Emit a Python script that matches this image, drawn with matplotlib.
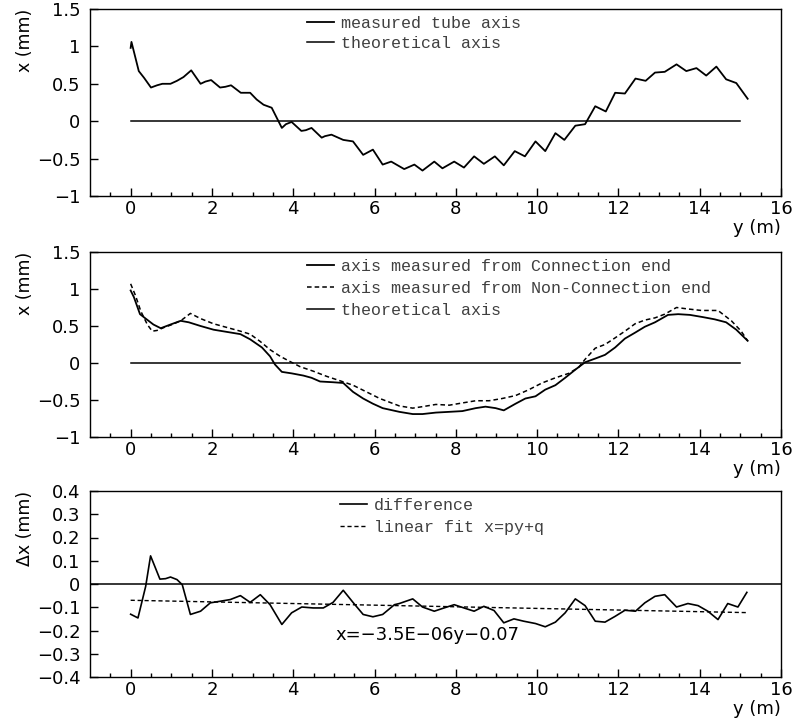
import matplotlib
matplotlib.use('Agg')
import matplotlib.pyplot as plt
import numpy as np

# measured tube axis (y in m, x in mm)
tube_y = [0.0, 0.02, 0.2, 0.33, 0.5, 0.65, 0.78, 0.98, 1.14, 1.3,
          1.49, 1.72, 1.84, 1.98, 2.2, 2.33, 2.47, 2.71, 2.94, 3.1,
          3.27, 3.47, 3.72, 3.82, 3.96, 4.2, 4.31, 4.45, 4.7, 4.78,
          4.94, 5.23, 5.47, 5.72, 5.96, 6.2, 6.41,
          6.73, 6.98, 7.18, 7.47, 7.67, 7.96, 8.2, 8.45, 8.69, 8.96,
          9.18, 9.45, 9.7, 9.96, 10.2, 10.45, 10.67, 10.94, 11.18, 11.43,
          11.69, 11.92, 12.16, 12.42, 12.67, 12.9, 13.14, 13.43, 13.67, 13.92,
          14.16, 14.41, 14.65, 14.9, 15.18]
tube_x = [0.98, 1.06, 0.67, 0.58, 0.45, 0.48, 0.5, 0.5, 0.54, 0.59,
          0.68, 0.50, 0.53, 0.55, 0.45, 0.46, 0.48, 0.38, 0.38, 0.29,
          0.22, 0.18, -0.09, -0.04, -0.01, -0.13, -0.12, -0.09, -0.22, -0.2,
          -0.18, -0.25, -0.27, -0.45, -0.38, -0.58, -0.54,
          -0.64, -0.58, -0.66, -0.54, -0.63, -0.54, -0.62, -0.47, -0.57, -0.47,
          -0.59, -0.40, -0.47, -0.27, -0.40, -0.16, -0.25, -0.06, -0.04, 0.2,
          0.13, 0.38, 0.37, 0.57, 0.54, 0.65, 0.66, 0.76, 0.67, 0.71,
          0.61, 0.73, 0.56, 0.51, 0.3]

# axis measured from the connection end
conn_y = [0, 0.08, 0.23, 0.37, 0.56, 0.74, 0.98, 1.23, 1.43, 1.72,
          2.04, 2.37, 2.7, 2.94, 3.23, 3.43, 3.55, 3.72, 3.96, 4.25,
          4.45, 4.66, 4.98, 5.23, 5.47, 5.72, 5.96, 6.2, 6.61, 6.94,
          7.18, 7.51, 7.84, 8.16, 8.49, 8.73, 8.98, 9.18, 9.47, 9.71,
          9.96, 10.2, 10.45, 10.69, 10.94, 11.18, 11.43, 11.67, 11.92, 12.16,
          12.41, 12.65, 12.9, 13.22, 13.47, 13.76, 14.08, 14.37, 14.65, 14.9,
          15.18]
conn_x = [0.98, 0.89, 0.66, 0.6, 0.52, 0.47, 0.52, 0.57, 0.55, 0.5,
          0.45, 0.42, 0.39, 0.32, 0.21, 0.09, -0.02, -0.12, -0.14, -0.17,
          -0.2, -0.25, -0.26, -0.27, -0.39, -0.48, -0.55, -0.61, -0.66, -0.69,
          -0.69, -0.67, -0.66, -0.65, -0.61, -0.59, -0.61, -0.64, -0.55, -0.48,
          -0.45, -0.36, -0.30, -0.2, -0.09, 0.01, 0.06, 0.11, 0.21, 0.33,
          0.41, 0.49, 0.55, 0.65, 0.66, 0.65, 0.62, 0.59, 0.55, 0.45,
          0.3]

# axis measured from the non-connection end
nconn_y = [0, 0.12, 0.25, 0.41, 0.53, 0.65, 0.82, 1.02, 1.23, 1.47,
           1.72, 2.04, 2.37, 2.7, 2.94, 3.19, 3.43, 3.68, 3.92, 4.17,
           4.49, 4.82, 5.15, 5.47, 5.8, 6.13, 6.61, 6.94, 7.18, 7.51,
           7.84, 8.16, 8.49, 8.82, 9.14, 9.47, 9.8, 10.12, 10.45, 10.78,
           11.02, 11.18, 11.43, 11.67, 11.92, 12.16, 12.41, 12.65, 12.9, 13.14,
           13.43, 13.71, 14.04, 14.45, 14.78, 15.02, 15.18]
nconn_x = [1.07, 0.91, 0.7, 0.52, 0.43, 0.44, 0.48, 0.52, 0.57, 0.67,
           0.6, 0.53, 0.48, 0.43, 0.39, 0.29, 0.18, 0.09, 0.02, -0.05,
           -0.11, -0.18, -0.24, -0.30, -0.39, -0.48, -0.58, -0.61, -0.59, -0.56,
           -0.57, -0.54, -0.51, -0.51, -0.48, -0.44, -0.36, -0.27, -0.2, -0.14,
           -0.06, 0.05, 0.2, 0.25, 0.34, 0.43, 0.53, 0.58, 0.61, 0.66,
           0.75, 0.73, 0.71, 0.71, 0.57, 0.43, 0.3]

# difference between the two measurements
diff_y = [0, 0.18, 0.37, 0.49, 0.72, 0.86, 0.98, 1.14, 1.27, 1.47,
          1.72, 1.96, 2.21, 2.45, 2.7, 2.94, 3.19, 3.43, 3.72, 3.96,
          4.21, 4.49, 4.74, 4.98, 5.23, 5.47, 5.72, 5.96, 6.2, 6.49,
          6.61, 6.94, 7.18, 7.47, 7.71, 7.96, 8.2, 8.45, 8.69, 8.94,
          9.18, 9.43, 9.67, 9.96, 10.2, 10.45, 10.69, 10.94, 11.18, 11.43,
          11.67, 11.92, 12.16, 12.42, 12.65, 12.9, 13.14, 13.43, 13.71, 13.96,
          14.2, 14.45, 14.69, 14.94, 15.16]
diff_x = [-0.13, -0.146, -0.01, 0.121, 0.021, 0.023, 0.03, 0.019, -0.003, -0.131,
          -0.117, -0.081, -0.074, -0.067, -0.05, -0.079, -0.046, -0.089, -0.174, -0.124,
          -0.099, -0.103, -0.103, -0.079, -0.027, -0.079, -0.131, -0.141, -0.131, -0.089,
          -0.084, -0.064, -0.099, -0.117, -0.103, -0.089, -0.103, -0.117, -0.096, -0.114,
          -0.167, -0.15, -0.16, -0.17, -0.184, -0.164, -0.124, -0.064, -0.093, -0.16,
          -0.164, -0.139, -0.113, -0.117, -0.081, -0.053, -0.046, -0.099, -0.084, -0.093,
          -0.117, -0.153, -0.084, -0.099, -0.036]

# linear fit x = p*y + q  (y in mm)
fit_p = -3.5e-6
fit_q = -0.07

theory_range = [0.0, 15.0]

TICKFONT = 13
MONO = 'Liberation Mono'
DASH = (0, (3, 2))


def style_axis(ax, ylim, yticks, ylabel):
    ax.set_xlim(-1, 16)
    ax.set_ylim(*ylim)
    ax.set_xticks(np.arange(0, 17, 2))
    ax.set_xticks(np.arange(-0.5, 16, 0.5), minor=True)
    ax.set_yticks(yticks)
    ax.set_yticklabels([('%g' % t).replace('-', '\u2212') for t in yticks])
    ax.tick_params(which='both', direction='in', top=False, right=False,
                   labelsize=TICKFONT, width=1)
    ax.tick_params(axis='x', which='major', length=5.5, pad=3)
    ax.tick_params(axis='x', which='minor', length=3)
    ax.tick_params(axis='y', which='major', length=5.5, pad=7)
    ax.tick_params(axis='y', which='minor', left=False)
    for s in ax.spines.values():
        s.set_linewidth(1.0)
    ax.text(1.0, -0.125, 'y (m)', transform=ax.transAxes, ha='right',
            va='top', fontsize=TICKFONT)
    ax.text(-0.094, 1.0, ylabel, transform=ax.transAxes, rotation=90,
            ha='center', va='top', fontsize=12.5)


def add_legend(ax, x0, spacing):
    leg = ax.legend(loc='upper left', bbox_to_anchor=(x0, 0.962),
                    frameon=False, borderpad=0, borderaxespad=0,
                    handlelength=1.6, handletextpad=0.45, labelspacing=spacing,
                    prop={'family': MONO, 'size': 12})
    for t in leg.get_texts():
        t.set_color('0.25')
    return leg


fig = plt.figure(figsize=(7.94, 7.26), dpi=100)
L, W = 90 / 794, 691 / 794
ax1 = fig.add_axes([L, 1 - 196 / 726, W, 187 / 726])
ax2 = fig.add_axes([L, 1 - 437 / 726, W, 185 / 726])
ax3 = fig.add_axes([L, 1 - 677 / 726, W, 186 / 726])

# top: measured vs theoretical
ax1.plot(tube_y, tube_x, color='black', lw=1.3, label='measured tube axis')
ax1.plot(theory_range, [0, 0], color='black', lw=1.1, label='theoretical axis')
style_axis(ax1, (-1, 1.5), [-1, -0.5, 0, 0.5, 1, 1.5], 'x (mm)')
add_legend(ax1, 0.314, 0.3)

# middle: both ends
ax2.plot(conn_y, conn_x, color='black', lw=1.3,
         label='axis measured from Connection end')
ax2.plot(nconn_y, nconn_x, color='black', lw=1.1, linestyle=DASH,
         label='axis measured from Non-Connection end')
ax2.plot(theory_range, [0, 0], color='black', lw=1.1, label='theoretical axis')
style_axis(ax2, (-1, 1.5), [-1, -0.5, 0, 0.5, 1, 1.5], 'x (mm)')
add_legend(ax2, 0.314, 0.42)

# bottom: difference and linear fit
fit_y = np.array([diff_y[0], diff_y[-1]])
fit_x = fit_q + fit_p * fit_y * 1000
ax3.plot(diff_y, diff_x, color='black', lw=1.2, label='difference')
ax3.plot(fit_y, fit_x, color='black', lw=1.0, linestyle=DASH,
         label='linear fit x=py+q')
ax3.axhline(0, color='black', lw=1.1)
style_axis(ax3, (-0.4, 0.4), [-0.4, -0.3, -0.2, -0.1, 0, 0.1, 0.2, 0.3, 0.4],
           '\u0394x (mm)')
add_legend(ax3, 0.362, 0.42)
ax3.text(0.3546, 0.226,
         'x=\u2212%.1fE\u221206y\u2212%.2f' % (-fit_p * 1e6, -fit_q),
         transform=ax3.transAxes, ha='left', va='center', fontsize=13)

fig.savefig('out.png', dpi=100)
